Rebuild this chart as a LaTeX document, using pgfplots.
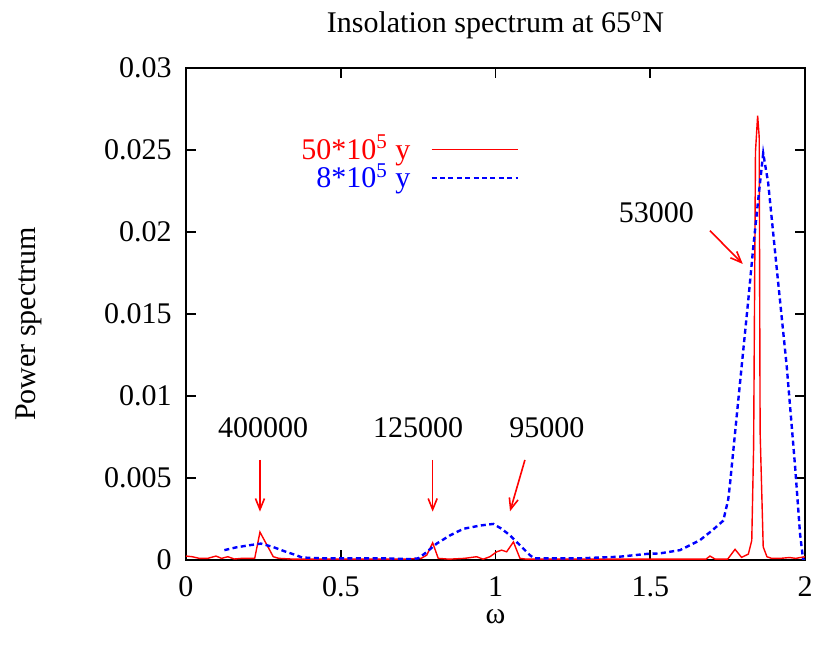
\documentclass[border=0pt]{standalone}
\usepackage{fontspec}
\setmainfont{Liberation Serif}
\usepackage{pgfplots}
\pgfplotsset{compat=1.18}
\usetikzlibrary{calc,arrows.meta}
\definecolor{gred}{RGB}{255,0,0}
\definecolor{gblue}{RGB}{0,0,255}
\begin{document}
\fontsize{15bp}{18bp}\selectfont
\begin{tikzpicture}
\begin{axis}[
  scale only axis,
  width=309.5bp, height=246bp,
  xmin=0, xmax=2, ymin=0, ymax=0.03,
  xtick={0,0.5,1,1.5,2},
  xticklabels={0,0.5,1,1.5,2},
  ytick={0,0.005,0.01,0.015,0.02,0.025,0.03},
  yticklabels={0,0.005,0.01,0.015,0.02,0.025,0.03},
  scaled y ticks=false,
  tick align=inside,
  major tick length=5bp,
  tick style={black, line width=0.9bp},
  axis line style={line width=1bp},
  xticklabel style={yshift=-3bp},
  yticklabel style={xshift=-2bp},
  title={Insolation spectrum at 65\textsuperscript{o}N},
  title style={at={(axis description cs:0.5,1.063)}, anchor=center},
  xlabel={ω},
  xlabel style={at={(axis description cs:0.5,-0.116)}, anchor=center},
  ylabel={Power spectrum},
  ylabel style={at={(axis description cs:-0.254,0.48)}, anchor=center},
  legend plot pos=right,
  legend cell align=right,
  legend style={draw=none, fill=none, at={(axis description cs:0.548,0.881)}, anchor=north east, row sep=-4bp},
  legend image code/.code={\path (0bp,0bp); \draw[#1] (8bp,0bp) -- (51bp,0bp);},
]
\addplot[gred, line width=0.7bp] coordinates {
(0.0,0.00024) (0.02,0.0002) (0.043,0.0001) (0.07,0.0001) (0.097,0.00024)
(0.115,0.0001) (0.135,0.0002) (0.156,0.00006) (0.18,0.0001) (0.205,0.0001)
(0.222,0.0001) (0.239,0.0017) (0.282,0.0002) (0.30,0.0001) (0.35,0.00005)
(0.4,0.00005) (0.5,0.00005) (0.6,0.00005) (0.7,0.00005) (0.76,0.0001)
(0.778,0.0003) (0.797,0.00105) (0.815,0.0001) (0.85,0.00005) (0.9,0.0001)
(0.939,0.0002) (0.96,0.00005) (0.982,0.0002) (1.004,0.0005) (1.02,0.0006)
(1.036,0.0005) (1.058,0.0011) (1.079,0.0001) (1.1,0.00005) (1.3,0.00005)
(1.5,0.00005) (1.65,0.00005) (1.68,0.00005) (1.693,0.00024) (1.71,0.00005)
(1.75,0.00005) (1.774,0.00065) (1.795,0.00016) (1.817,0.00036) (1.828,0.0012)
(1.834,0.0069) (1.840,0.0249) (1.847,0.0271) (1.852,0.0258) (1.855,0.0078)
(1.865,0.0008) (1.877,0.0002) (1.892,0.0001) (1.92,0.0001) (1.95,0.00015)
(1.97,0.0001) (2.0,0.0002)
};
\addlegendentry{\textcolor{gred}{50*10\textsuperscript{5} y}}
\addplot[gblue, line width=1.2bp, dash pattern=on 2.5bp off 1.7bp] coordinates {
(0.124,0.0006) (0.162,0.00077) (0.205,0.0009) (0.242,0.001) (0.28,0.0008)
(0.323,0.0005) (0.355,0.0003) (0.375,0.00015) (0.45,0.0001) (0.55,0.0001)
(0.65,0.0001) (0.72,0.00005) (0.75,0.0001) (0.772,0.0004) (0.81,0.001)
(0.853,0.0015) (0.896,0.0019) (0.95,0.0021) (0.993,0.0022) (1.02,0.0019)
(1.047,0.0015) (1.079,0.0009) (1.111,0.0003) (1.125,0.0001) (1.27,0.0001)
(1.4,0.0002) (1.488,0.00037) (1.53,0.0004) (1.596,0.0006) (1.66,0.0012)
(1.70,0.0018) (1.736,0.0024) (1.752,0.0037) (1.758,0.0047) (1.790,0.0108)
(1.817,0.0159) (1.833,0.0191) (1.849,0.0220) (1.865,0.0248) (1.881,0.0230)
(1.908,0.0179) (1.941,0.0118) (1.968,0.0057) (1.984,0.0016) (1.994,0.0)
(2.0,0.0)
};
\addlegendentry{\textcolor{gblue}{8*10\textsuperscript{5} y}}
\draw[gred, line width=0.8bp, -{Straight Barb[length=5.5bp,width=4.5bp]}] (axis cs:0.239,0.0061) -- (axis cs:0.239,0.00295);
\draw[gred, line width=0.8bp, -{Straight Barb[length=5.5bp,width=4.5bp]}] (axis cs:0.797,0.0061) -- (axis cs:0.797,0.00295);
\draw[gred, line width=0.8bp, -{Straight Barb[length=5.5bp,width=4.5bp]}] (axis cs:1.095,0.0061) -- (axis cs:1.047,0.00297);
\draw[gred, line width=0.8bp, -{Straight Barb[length=5.5bp,width=4.5bp]}] (axis cs:1.693,0.02008) -- (axis cs:1.799,0.01805);
\node at (axis cs:0.249,0.00805) {400000};
\node at (axis cs:0.75,0.00805) {125000};
\node at (axis cs:1.166,0.00805) {95000};
\node at (axis cs:1.520,0.02116) {53000};
\coordinate (sw) at (rel axis cs:0,0);
\coordinate (ne) at (rel axis cs:1,1);
\end{axis}
\pgfresetboundingbox
\path[use as bounding box] ($(sw)+(-93bp,-44.5bp)$) rectangle ($(ne)+(4.5bp,34bp)$);
\end{tikzpicture}
\end{document}
